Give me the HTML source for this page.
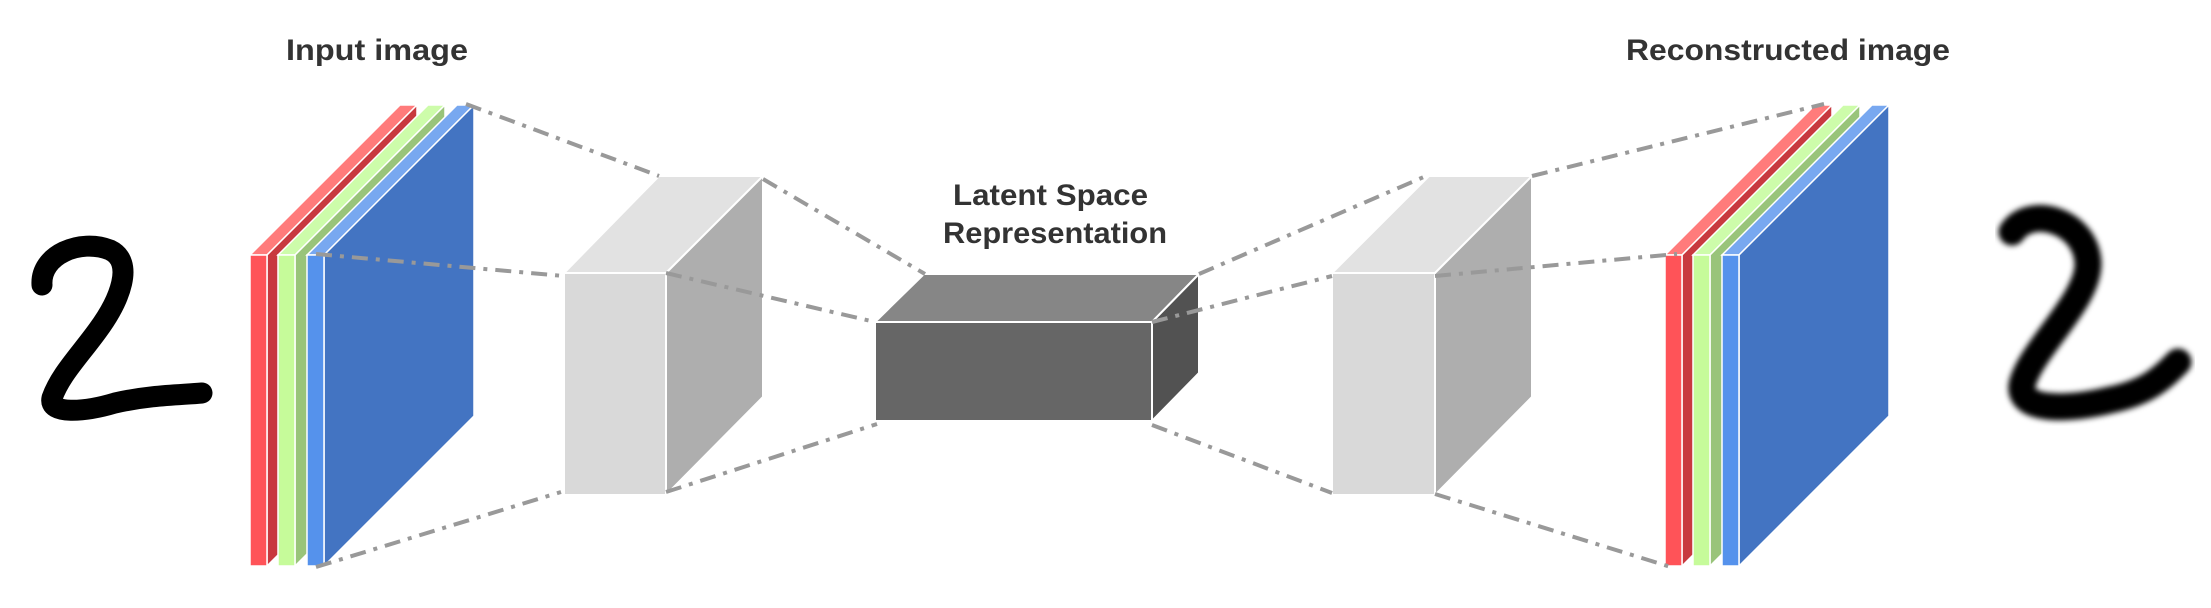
<!DOCTYPE html>
<html><head><meta charset="utf-8"><style>
html,body{margin:0;padding:0;background:#fff;width:2211px;height:608px;overflow:hidden}
svg{display:block}
text{font-family:"Liberation Sans",sans-serif;font-weight:bold;fill:#333;font-size:30px}
</style></head><body>
<svg width="2211" height="608" viewBox="0 0 2211 608">
<defs><filter id="bl"><feGaussianBlur stdDeviation="3"/></filter></defs>
<text x="286" y="60" textLength="182" lengthAdjust="spacingAndGlyphs">Input image</text>
<text x="1626" y="60" textLength="324" lengthAdjust="spacingAndGlyphs">Reconstructed image</text>
<text x="953" y="205" textLength="195" lengthAdjust="spacingAndGlyphs">Latent Space</text>
<text x="943" y="243" textLength="224" lengthAdjust="spacingAndGlyphs">Representation</text>

<path d="M42 285 C40 255,80 238,110 250 C135 262,120 300,98 330 C80 355,60 375,52 398 C48 415,85 412,115 403 C150 395,180 395,202 393" fill="none" stroke="#000" stroke-width="21" stroke-linecap="round"/>
<path d="M2012 232 C2030 205,2085 220,2088 262 C2090 300,2030 350,2022 385 C2018 412,2070 410,2110 400 C2150 392,2165 375,2178 362" fill="none" stroke="#000" stroke-width="27" stroke-linecap="round" filter="url(#bl)"/>

<g id="left-stack"></g>
<g id="right-stack"></g>

<g stroke="#fff" stroke-width="2">
<polygon points="564,273 659,176 763,176 666,273" fill="#e2e2e2"/>
<polygon points="666,273 763,176 763,397 666,495" fill="#aeaeae"/>
<rect x="564" y="273" width="102" height="222" fill="#d9d9d9"/>
</g>
<g stroke="#fff" stroke-width="2">
<polygon points="1332,273 1429,176 1532,176 1435,273" fill="#e2e2e2"/>
<polygon points="1435,273 1532,176 1532,397 1435,495" fill="#aeaeae"/>
<rect x="1332" y="273" width="103" height="222" fill="#d9d9d9"/>
</g>
<g stroke="#fff" stroke-width="2">
<polygon points="875,322 924,274 1199,274 1152,322" fill="#868686"/>
<polygon points="1152,322 1199,274 1199,373 1152,421" fill="#525252"/>
<rect x="875" y="322" width="277" height="99" fill="#666"/>
</g>

<g stroke="#999" stroke-width="4" stroke-dasharray="16 8 4 8" fill="none">
<line x1="466" y1="104" x2="659" y2="176"/>
<line x1="316" y1="254" x2="564" y2="276"/>
<line x1="316" y1="567" x2="561" y2="492"/>
<line x1="763" y1="179" x2="925" y2="274"/>
<line x1="666" y1="273" x2="875" y2="322"/>
<line x1="666" y1="492" x2="877" y2="424"/>
<line x1="1199" y1="274" x2="1426" y2="176"/>
<line x1="1152" y1="322" x2="1332" y2="276"/>
<line x1="1152" y1="425" x2="1332" y2="493"/>
<line x1="1532" y1="176" x2="1824" y2="104"/>
<line x1="1435" y1="276" x2="1677" y2="254"/>
<line x1="1435" y1="494" x2="1674" y2="568"/>
</g>
</svg>
<script>
const NS='http://www.w3.org/2000/svg';
const layerColors=[['#ff5358','#ff7b7b','#c8393f'],['#c6fb9a','#cdfcaa','#99c47a'],['#5592ec','#78a8f0','#4374c2']];
const layerNames=['red-channel','green-channel','blue-channel'];
function stack(g,xs){
  const grp=document.getElementById(g);
  xs.forEach((a,i)=>{
    const c=layerColors[i],w=17,dx=150,dy=150,top=255,bot=566;
    const parts=[
      [`${a},${top} ${a+dx},${top-dy} ${a+dx+w},${top-dy} ${a+w},${top}`,c[1]],
      [`${a+w},${top} ${a+w+dx},${top-dy} ${a+w+dx},${bot-dy} ${a+w},${bot}`,c[2]],
      [`${a},${top} ${a+w},${top} ${a+w},${bot} ${a},${bot}`,c[0]]
    ];
    const lg=document.createElementNS(NS,'g');
    
    
    parts.forEach(p=>{
      const po=document.createElementNS(NS,'polygon');
      po.setAttribute('points',p[0]);po.setAttribute('fill',p[1]);
      po.setAttribute('stroke','#fff');po.setAttribute('stroke-width','1.5');
      lg.appendChild(po);
    });
    grp.appendChild(lg);
  });
}
stack('left-stack',[250,278,307]);
stack('right-stack',[1665,1693,1722]);
</script>
</body></html>
